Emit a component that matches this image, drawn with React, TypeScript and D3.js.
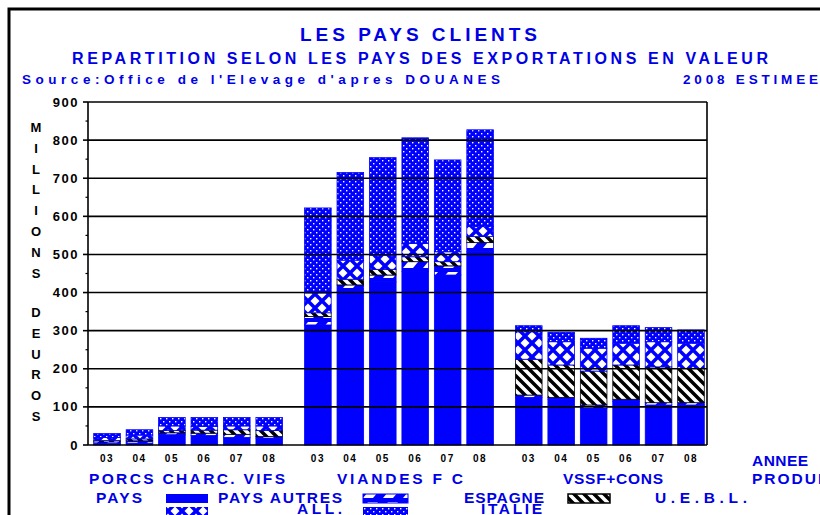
import React from "react";
import * as d3 from "d3";

const produits = ["PORCS CHARC. VIFS", "VIANDES F C", "VSSF+CONS"];
const annees = ["03", "04", "05", "06", "07", "08"];
const series = ["PAYS AUTRES", "ESPAGNE", "U.E.B.L.", "ALL.", "ITALIE"];
const yTicks = [0, 100, 200, 300, 400, 500, 600, 700, 800, 900];

// values per product group (years 03..08), millions d'euros
const paysAutres = [
  [4, 5, 27, 25, 20, 18],
  [315, 402, 428, 455, 446, 507],
  [125, 120, 96, 114, 105, 105],
];
const espagne = [
  [4, 6, 5, 6, 8, 4],
  [22, 18, 18, 26, 24, 24],
  [6, 5, 9, 6, 6, 6],
];
const uebl = [
  [4, 5, 6, 8, 12, 16],
  [10, 15, 15, 13, 11, 16],
  [94, 85, 89, 90, 94, 90],
];
const allemagne = [
  [8, 10, 12, 10, 10, 12],
  [52, 50, 37, 35, 26, 26],
  [72, 61, 60, 57, 66, 66],
];
const italie = [
  [10, 14, 22, 23, 22, 22],
  [223, 230, 256, 277, 241, 254],
  [16, 25, 26, 46, 37, 35],
];

const BLUE = "#0000ff";
const TXT = "#0000e6";
const FONT = "'Liberation Sans', Arial, sans-serif";
const NARROW = "'Liberation Sans Narrow', 'Liberation Sans', Arial, sans-serif";

const fills = ["url(#pAutres)", "url(#pEsp)", "url(#pUebl)", "url(#pAll)", "url(#pIta)"];
const strokes = [BLUE, BLUE, "#000", BLUE, BLUE];

export default function App() {
  const seriesArrays = [paysAutres, espagne, uebl, allemagne, italie];
  const rows: any[] = [];
  produits.forEach((p, gi) => {
    annees.forEach((a, yi) => {
      const r: any = { produit: p, annee: a };
      series.forEach((s, si) => (r[s] = seriesArrays[si][gi][yi]));
      rows.push(r);
    });
  });
  const stacked = d3.stack<any>().keys(series)(rows);

  const left = 88, right = 707, top = 102, bottom = 445;
  const y = d3.scaleLinear().domain([0, 900]).range([bottom, top]);
  const x0 = d3
    .scaleBand()
    .domain(produits)
    .range([90.8, 707.2])
    .paddingInner(0.5 / 6.5)
    .paddingOuter(0);
  const x1 = d3
    .scaleBand()
    .domain(annees)
    .range([0, x0.bandwidth()])
    .paddingInner(0.18)
    .paddingOuter(0.09);

  const minor = d3.range(50, 900, 100);
  const yLetters1 = "MILLIONS".split("");
  const yLetters2 = "DEUROS".split("");

  return (
    <svg
      width={820}
      height={515}
      style={{ position: "absolute", left: 0, top: 0, background: "#fff" }}
      fontFamily={FONT}
    >
      <defs>
        <pattern id="pAutres" width="4" height="4" patternUnits="userSpaceOnUse">
          <rect width="4" height="4" fill={BLUE} />
        </pattern>
        <pattern id="pEsp" width="20" height="10" patternUnits="userSpaceOnUse">
          <rect width="20" height="10" fill={BLUE} />
          <polygon points="3,8 8,2 18,2 13,8" fill="#fff" />
        </pattern>
        <pattern id="pUebl" width="10" height="10" patternUnits="userSpaceOnUse">
          <rect width="10" height="10" fill="#fff" />
          <path d="M-2,-2 L12,12 M-7,3 L3,13 M3,-7 L13,3" stroke="#000" strokeWidth="3.5" />
        </pattern>
        <pattern id="pAll" width="14" height="14" patternUnits="userSpaceOnUse">
          <rect width="14" height="14" fill={BLUE} />
          <polygon points="7,2.5 11.5,7 7,11.5 2.5,7" fill="#fff" />
          <polygon points="0,-4.5 4.5,0 0,4.5 -4.5,0" fill="#fff" />
          <polygon points="14,-4.5 18.5,0 14,4.5 9.5,0" fill="#fff" />
          <polygon points="0,9.5 4.5,14 0,18.5 -4.5,14" fill="#fff" />
          <polygon points="14,9.5 18.5,14 14,18.5 9.5,14" fill="#fff" />
        </pattern>
        <pattern id="pIta" width="6" height="6" patternUnits="userSpaceOnUse">
          <rect width="6" height="6" fill={BLUE} />
          <rect x="1" y="1" width="1.4" height="1.4" fill="#fff" />
          <rect x="4" y="4" width="1.4" height="1.4" fill="#fff" />
        </pattern>
      </defs>

      {/* outer frame */}
      <path d="M9,515 L9,9 L820,9" fill="none" stroke="#000" strokeWidth={3} />

      {/* titles */}
      <g fill={TXT} fontWeight="bold" fontFamily={NARROW}>
        <text x={300} y={41} fontSize={19} textLength={237} lengthAdjust="spacing">
          LES PAYS CLIENTS
        </text>
        <text x={72} y={64} fontSize={16} textLength={696} lengthAdjust="spacing">
          REPARTITION SELON LES PAYS DES EXPORTATIONS EN VALEUR
        </text>
        <text x={22} y={84} fontSize={13.5} textLength={478} lengthAdjust="spacing">
          Source:Office de l'Elevage d'apres DOUANES
        </text>
        <text x={683} y={84} fontSize={13.5} textLength={135} lengthAdjust="spacing">
          2008 ESTIMEE
        </text>
      </g>

      {/* y label */}
      <g fill="#000" fontWeight="bold" fontSize={13} textAnchor="middle">
        {yLetters1.map((c, i) => (
          <text key={"a" + i} x={36} y={132 + i * 20.8}>
            {c}
          </text>
        ))}
        {yLetters2.map((c, i) => (
          <text key={"b" + i} x={36} y={317 + i * 20.8}>
            {c}
          </text>
        ))}
      </g>

      {/* bars */}
      <g>
        {stacked.map((layer, si) => (
          <g key={layer.key}>
            {layer.map((d, i) => {
              const r = rows[i];
              const bx = (x0(r.produit) as number) + (x1(r.annee) as number);
              const h = y(d[0]) - y(d[1]);
              if (h <= 0) return null;
              return (
                <rect
                  key={i}
                  x={bx}
                  y={y(d[1])}
                  width={x1.bandwidth()}
                  height={h}
                  fill={fills[si]}
                  stroke={strokes[si]}
                  strokeWidth={0.8}
                />
              );
            })}
          </g>
        ))}
      </g>

      {/* grid lines */}
      <g stroke="#000" strokeWidth={1.6}>
        {yTicks.map((t) => (
          <line key={t} x1={left} x2={right} y1={y(t)} y2={y(t)} />
        ))}
        <line x1={left} x2={left} y1={top} y2={bottom} />
        <line x1={right} x2={right} y1={top} y2={bottom} />
        {yTicks.map((t) => (
          <line key={"t" + t} x1={left - 5} x2={left} y1={y(t)} y2={y(t)} />
        ))}
        {minor.map((t) => (
          <line key={"m" + t} x1={left - 2.5} x2={left} y1={y(t)} y2={y(t)} strokeWidth={1.2} />
        ))}
      </g>

      {/* y tick labels */}
      <g fill="#000" fontWeight="bold" fontSize={13} textAnchor="end">
        {yTicks.map((t) => (
          <text key={t} x={79} y={y(t) + 4.5} letterSpacing={1.5}>
            {t}
          </text>
        ))}
      </g>

      {/* x tick labels */}
      <g fill="#000" fontWeight="bold" fontSize={10} textAnchor="middle">
        {rows.map((r, i) => (
          <text
            key={i}
            x={(x0(r.produit) as number) + (x1(r.annee) as number) + x1.bandwidth() / 2}
            y={462}
            letterSpacing={1.5}
          >
            {r.annee}
          </text>
        ))}
      </g>

      {/* category labels */}
      <g fill={TXT} fontWeight="bold" fontSize={15.5} fontFamily={NARROW}>
        <text x={89} y={484} textLength={196} lengthAdjust="spacing">
          {produits[0]}
        </text>
        <text x={337} y={484} textLength={126} lengthAdjust="spacing">
          {produits[1]}
        </text>
        <text x={563} y={484} textLength={100} lengthAdjust="spacing">
          {produits[2]}
        </text>
        <text x={752} y={466} textLength={56} lengthAdjust="spacing">
          ANNEE
        </text>
        <text x={752} y={484} letterSpacing={2}>
          PRODUIT
        </text>
      </g>

      {/* legend */}
      <g fill={TXT} fontWeight="bold" fontSize={15.5} fontFamily={NARROW}>
        <text x={96} y={503} textLength={46} lengthAdjust="spacing">
          PAYS
        </text>
        <text x={218} y={503} textLength={124} lengthAdjust="spacing">
          {series[0]}
        </text>
        <text x={464} y={503} textLength={80} lengthAdjust="spacing">
          {series[1]}
        </text>
        <text x={655} y={503} textLength={92} lengthAdjust="spacing">
          {series[2]}
        </text>
        <text x={297} y={514} textLength={45} lengthAdjust="spacing">
          {series[3]}
        </text>
        <text x={481} y={514} textLength={61} lengthAdjust="spacing">
          {series[4]}
        </text>
      </g>
      <g>
        <rect x={166} y={494} width={42} height={9} fill={fills[0]} />
        <rect x={363} y={494} width={45} height={9} fill={fills[1]} stroke={BLUE} strokeWidth={1} />
        <rect x={568} y={494} width={42} height={9} fill={fills[2]} stroke="#000" strokeWidth={1.5} />
        <rect x={166} y={507} width={42} height={8} fill={fills[3]} />
        <rect x={363} y={507} width={45} height={8} fill={fills[4]} />
      </g>
    </svg>
  );
}
